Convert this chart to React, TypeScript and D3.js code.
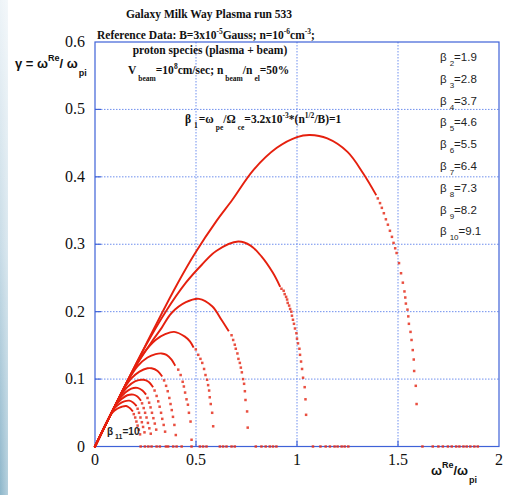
import React from "react";
import * as d3 from "d3";

type P = [number, number];

// ---------- data ----------
const xTicks = [0, 0.5, 1, 1.5, 2];
const xTickLabels = ["0", "0.5", "1", "1.5", "2"];
const yTicks = [0, 0.1, 0.2, 0.3, 0.4, 0.5, 0.6];
const yTickLabels = ["0", "0.1", "0.2", "0.3", "0.4", "0.5", "0.6"];

const legendSubs = ["2", "3", "4", "5", "6", "7", "8", "9", "10"];
const legendVals = ["1.9", "2.8", "3.7", "4.6", "5.5", "6.4", "7.3", "8.2", "9.1"];

const beta1Dense: P[] = [[0,0],[0.1,0.061],[0.25,0.15],[0.4,0.237],[0.5,0.289],[0.6,0.334],[0.68,0.366],[0.784,0.41],[0.9,0.443],[1.0,0.459],[1.064,0.462],[1.15,0.457],[1.25,0.437],[1.328,0.405],[1.39,0.374]];
const beta1Tail: P[] = [[1.4,0.368],[1.411,0.361],[1.42,0.354],[1.43,0.346],[1.44,0.337],[1.45,0.329],[1.46,0.32],[1.47,0.311],[1.478,0.302],[1.486,0.294],[1.493,0.287],[1.505,0.272],[1.515,0.257],[1.524,0.243],[1.532,0.23],[1.536,0.221],[1.539,0.212],[1.547,0.203],[1.551,0.193],[1.554,0.182],[1.562,0.17],[1.567,0.158],[1.573,0.143],[1.578,0.129],[1.58,0.112],[1.588,0.09],[1.592,0.063]];

const beta2Dense: P[] = [[0,0],[0.1,0.061],[0.25,0.149],[0.35,0.2],[0.45,0.243],[0.53,0.27],[0.6,0.29],[0.709,0.304],[0.77,0.298],[0.824,0.282],[0.88,0.258],[0.915,0.238]];
const beta2Tail: P[] = [[0.923,0.234],[0.934,0.231],[0.939,0.226],[0.946,0.222],[0.951,0.218],[0.954,0.213],[0.961,0.209],[0.966,0.204],[0.972,0.2],[0.975,0.194],[0.98,0.188],[0.985,0.182],[0.99,0.175],[0.997,0.168],[1.0,0.16],[1.005,0.153],[1.012,0.145],[1.015,0.136],[1.02,0.126],[1.025,0.115],[1.03,0.102],[1.038,0.088],[1.042,0.07],[1.045,0.047]];

const beta3Dense: P[] = [[0,0],[0.1,0.061],[0.2,0.118],[0.28,0.155],[0.33,0.176],[0.379,0.198],[0.45,0.214],[0.515,0.219],[0.58,0.208],[0.626,0.188],[0.66,0.172]];
const beta3Tail: P[] = [[0.676,0.165],[0.684,0.158],[0.692,0.151],[0.697,0.145],[0.705,0.138],[0.71,0.13],[0.717,0.124],[0.722,0.117],[0.727,0.11],[0.733,0.1],[0.738,0.093],[0.742,0.082],[0.745,0.069],[0.753,0.052],[0.756,0.028]];

const beta4Dense: P[] = [[0,0],[0.1,0.061],[0.18,0.108],[0.24,0.138],[0.3,0.158],[0.35,0.167],[0.392,0.17],[0.445,0.163],[0.47,0.156],[0.486,0.148]];
const beta4Tail: P[] = [[0.499,0.144],[0.511,0.136],[0.522,0.13],[0.531,0.124],[0.54,0.115],[0.547,0.106],[0.555,0.099],[0.56,0.091],[0.565,0.083],[0.568,0.073],[0.573,0.063],[0.58,0.05],[0.585,0.03]];

const beta5Dense: P[] = [[0,0],[0.1,0.061],[0.16,0.096],[0.21,0.119],[0.26,0.132],[0.3,0.137],[0.33,0.138],[0.354,0.136],[0.379,0.129],[0.395,0.121]];
const beta5Tail: P[] = [[0.412,0.114],[0.424,0.106],[0.434,0.096],[0.44,0.089],[0.446,0.08],[0.453,0.07],[0.46,0.062],[0.465,0.05],[0.473,0.037],[0.478,0.01]];

const beta6Dense: P[] = [[0,0],[0.1,0.061],[0.14,0.084],[0.18,0.101],[0.22,0.111],[0.26,0.116],[0.28,0.116],[0.31,0.112],[0.33,0.105]];
const beta6Tail: P[] = [[0.342,0.098],[0.352,0.09],[0.36,0.082],[0.368,0.072],[0.374,0.063],[0.38,0.054],[0.386,0.044],[0.393,0.032],[0.4,0.017]];

const beta7Dense: P[] = [[0,0],[0.08,0.049],[0.12,0.072],[0.16,0.088],[0.2,0.097],[0.24,0.099],[0.265,0.096],[0.285,0.089]];
const beta7Tail: P[] = [[0.295,0.083],[0.305,0.075],[0.313,0.067],[0.32,0.059],[0.327,0.05],[0.333,0.041],[0.34,0.032],[0.347,0.022]];

const beta8Dense: P[] = [[0,0],[0.08,0.049],[0.11,0.066],[0.15,0.08],[0.18,0.086],[0.21,0.087],[0.235,0.083],[0.25,0.078]];
const beta8Tail: P[] = [[0.26,0.072],[0.268,0.065],[0.275,0.058],[0.282,0.05],[0.289,0.042],[0.296,0.034],[0.303,0.025]];

const beta9Dense: P[] = [[0,0],[0.07,0.043],[0.1,0.06],[0.13,0.07],[0.16,0.076],[0.19,0.077],[0.21,0.074],[0.225,0.069]];
const beta9Tail: P[] = [[0.233,0.064],[0.241,0.057],[0.248,0.05],[0.255,0.043],[0.262,0.035],[0.269,0.027],[0.276,0.019]];

const beta10Dense: P[] = [[0,0],[0.07,0.043],[0.095,0.056],[0.12,0.063],[0.145,0.067],[0.17,0.068],[0.19,0.065],[0.203,0.061]];
const beta10Tail: P[] = [[0.211,0.056],[0.218,0.05],[0.225,0.043],[0.232,0.036],[0.238,0.029],[0.245,0.021]];

const beta11Dense: P[] = [[0,0],[0.06,0.037],[0.085,0.05],[0.11,0.056],[0.133,0.059],[0.155,0.06],[0.172,0.057],[0.185,0.053]];
const beta11Tail: P[] = [[0.192,0.048],[0.199,0.043],[0.205,0.037],[0.211,0.031],[0.217,0.025],[0.223,0.018]];

const zeroDotsX = [0.226,0.247,0.264,0.28,0.305,0.321,0.351,0.362,0.387,0.404,0.429,0.478,0.519,0.535,0.552,0.618,0.634,0.651,0.676,0.692,0.796,0.824,0.845,0.865,0.881,0.898,1.079,1.116,1.142,1.163,1.186,1.201,1.221,1.236,1.254,1.621,1.672,1.7,1.722,1.747,1.766,1.788,1.804,1.824,1.84,1.858,1.878,1.895];

const denseSeries = [beta1Dense, beta2Dense, beta3Dense, beta4Dense, beta5Dense, beta6Dense, beta7Dense, beta8Dense, beta9Dense, beta10Dense, beta11Dense];
const tailSeries = [beta1Tail, beta2Tail, beta3Tail, beta4Tail, beta5Tail, beta6Tail, beta7Tail, beta8Tail, beta9Tail, beta10Tail, beta11Tail];

// ---------- layout ----------
const W = 519, H = 495;
const X0 = 95, X1 = 499, Y0 = 446.5, Y1 = 42;
const RED = "#e5200e";
const DOT = "#e5301f";
const FRAME = "#3e62d8";
const GRID = "#6f8fee";
const SERIF = "'Liberation Serif', 'Times New Roman', serif";
const SANS = "'Liberation Sans', Arial, sans-serif";

export default function App() {
  const x = d3.scaleLinear().domain([0, 2]).range([X0, X1]);
  const y = d3.scaleLinear().domain([0, 0.6]).range([Y0, Y1]);
  const line = d3.line<P>().x(d => x(d[0])).y(d => y(d[1])).curve(d3.curveCatmullRom.alpha(0.5));

  return (
    <svg width={W} height={H} style={{ position: "absolute", left: 0, top: 0, background: "#fff" }}>
      <defs>
        <linearGradient id="strip" x1="0" y1="0" x2="0" y2="1">
          <stop offset="0" stopColor="#eef4f8" />
          <stop offset="0.5" stopColor="#c8dce7" />
          <stop offset="1" stopColor="#8db6ca" />
        </linearGradient>
        <linearGradient id="stripH" x1="0" y1="0" x2="1" y2="0">
          <stop offset="0" stopColor="#ffffff" stopOpacity="0" />
          <stop offset="1" stopColor="#ffffff" stopOpacity="0.35" />
        </linearGradient>
      </defs>
      <rect x={0} y={0} width={W} height={H} fill="#fff" />
      <rect x={0} y={0} width={8} height={H} fill="url(#strip)" />
      <rect x={0} y={0} width={8} height={H} fill="url(#stripH)" />

      {/* grid */}
      {xTicks.slice(1, -1).map(t => (
        <line key={"gx" + t} x1={x(t)} x2={x(t)} y1={Y1} y2={Y0} stroke={GRID} strokeWidth={1} strokeDasharray="1.5,1.5" />
      ))}
      {yTicks.slice(1, -1).map(t => (
        <line key={"gy" + t} x1={X0} x2={X1} y1={y(t)} y2={y(t)} stroke={GRID} strokeWidth={1} strokeDasharray="1.5,1.5" />
      ))}
      {/* inner ticks */}
      {xTicks.slice(1, -1).map(t => (
        <line key={"tx" + t} x1={x(t)} x2={x(t)} y1={Y0} y2={Y0 - 6} stroke={FRAME} strokeWidth={1.2} />
      ))}
      {yTicks.slice(1, -1).map(t => (
        <line key={"ty" + t} x1={X0} x2={X0 + 6} y1={y(t)} y2={y(t)} stroke={FRAME} strokeWidth={1.2} />
      ))}
      <rect x={X0} y={Y1} width={X1 - X0} height={Y0 - Y1} fill="none" stroke={FRAME} strokeWidth={1.2} />

      {/* curves */}
      {denseSeries.map((s, i) => (
        <path key={"d" + i} d={line(s) || ""} fill="none" stroke={RED} strokeWidth={1.9} strokeLinecap="square" />
      ))}
      {tailSeries.map((s, i) => s.map((p, j) => (
        <rect key={"t" + i + "-" + j} x={x(p[0]) - 1.25} y={y(p[1]) - 1.25} width={2.5} height={2.5} fill={DOT} opacity={0.85} />
      )))}
      {zeroDotsX.map((v, j) => (
        <rect key={"z" + j} x={x(v) - 1.25} y={y(0) - 1.25} width={2.5} height={2.5} fill={DOT} opacity={0.85} />
      ))}

      {/* tick labels */}
      {xTicks.map((t, i) => (
        <text key={"lx" + t} x={x(t)} y={465} textAnchor="middle" fontFamily={SERIF} fontSize={16} fill="#111">{xTickLabels[i]}</text>
      ))}
      {yTicks.map((t, i) => (
        <text key={"ly" + t} x={85} y={y(t) + 5} textAnchor="end" fontFamily={SERIF} fontSize={16} fill="#111">{yTickLabels[i]}</text>
      ))}

      {/* titles */}
      <g fontFamily={SERIF} fontWeight="bold" fill="#111" fontSize={11.5}>
        <text x={209} y={18} textAnchor="middle">Galaxy Milk Way Plasma run 533</text>
        <text x={97} y={39}>
          Reference Data: B=3x10<tspan dy={-5} fontSize={7.5}>-5</tspan><tspan dy={5}>Gauss; n=10</tspan><tspan dy={-5} fontSize={7.5}>-6</tspan><tspan dy={5}>cm</tspan><tspan dy={-5} fontSize={7.5}>-3</tspan><tspan dy={5}>;</tspan>
        </text>
        <text x={210} y={54} textAnchor="middle">proton species (plasma + beam)</text>
        <text x={128} y={74}>
          V<tspan dx={2} dy={7} fontSize={7.5}>beam</tspan><tspan dy={-7}>=10</tspan><tspan dy={-5} fontSize={7.5}>8</tspan><tspan dy={5}>cm/sec; n</tspan><tspan dx={2} dy={7} fontSize={7.5}>beam</tspan><tspan dy={-7}>/n</tspan><tspan dx={2} dy={7} fontSize={7.5}>el</tspan><tspan dy={-7}>=50%</tspan>
        </text>
        <text x={185} y={123}>
          β<tspan dx={3} dy={5} fontSize={7.5}>1</tspan><tspan dx={1} dy={-5}>=ω</tspan><tspan dx={2} dy={7} fontSize={7.5}>pe</tspan><tspan dy={-7}>/Ω</tspan><tspan dx={2} dy={7} fontSize={7.5}>ce</tspan><tspan dy={-7}>=3.2x10</tspan><tspan dy={-5} fontSize={7.5}>-3</tspan><tspan dy={5}>*(n</tspan><tspan dy={-5} fontSize={7.5}>1/2</tspan><tspan dy={5}>/B)=1</tspan>
        </text>
      </g>

      {/* axis titles */}
      <text x={15} y={68} fontFamily={SANS} fontWeight="bold" fontSize={13} fill="#111">
        γ = ω<tspan dy={-7} fontSize={9}>Re</tspan><tspan dy={7}>/ ω</tspan><tspan dx={1} dy={8} fontSize={9}>pi</tspan>
      </text>
      <text x={431} y={475} fontFamily={SANS} fontWeight="bold" fontSize={13} fill="#111">
        ω<tspan dy={-7} fontSize={9}>Re</tspan><tspan dy={7}>/ω</tspan><tspan dx={1} dy={8} fontSize={9}>pi</tspan>
      </text>

      {/* legend */}
      {legendSubs.map((s, i) => (
        <text key={"lg" + s} x={440} y={61 + i * 21.8} fontFamily={SANS} fontSize={11.5} fill="#222">
          β<tspan dx={3} dy={5} fontSize={8}>{s}</tspan><tspan dy={-5}>={legendVals[i]}</tspan>
        </text>
      ))}
      <text x={107} y={435} fontFamily={SANS} fontWeight="bold" fontSize={10} fill="#222">
        β<tspan dx={2} dy={4} fontSize={7}>11</tspan><tspan dy={-4}>=10</tspan>
      </text>
    </svg>
  );
}
